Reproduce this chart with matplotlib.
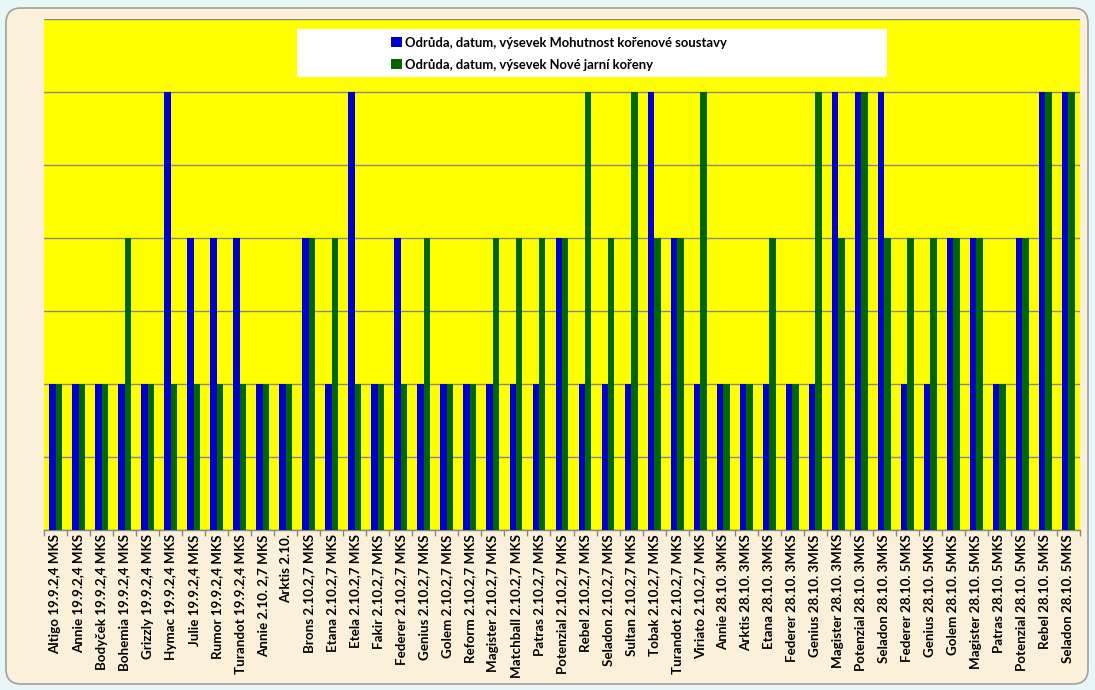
import matplotlib
matplotlib.use('Agg')
import matplotlib.pyplot as plt
import numpy as np
from matplotlib.patches import Patch, Rectangle, FancyBboxPatch

# category labels (variety, date, sowing)
labels = [
    "Altigo 19.9.2,4 MKS", "Annie 19.9.2,4 MKS", "Bodyček 19.9.2,4 MKS",
    "Bohemia 19.9.2,4 MKS", "Grizzly 19.9.2,4 MKS", "Hymac 19.9.2,4 MKS",
    "Julie 19.9.2,4 MKS", "Rumor 19.9.2,4 MKS", "Turandot 19.9.2,4 MKS",
    "Annie 2.10. 2,7 MKS", "Arktis 2.10.", "Brons 2.10.2,7 MKS",
    "Etana 2.10.2,7 MKS", "Etela 2.10.2,7 MKS", "Fakir 2.10.2,7 MKS",
    "Federer 2.10.2,7 MKS", "Genius 2.10.2,7 MKS", "Golem 2.10.2,7 MKS",
    "Reform 2.10.2,7 MKS", "Magister 2.10.2,7 MKS", "Matchball 2.10.2,7 MKS",
    "Patras 2.10.2,7 MKS", "Potenzial 2.10.2,7 MKS", "Rebel 2.10.2,7 MKS",
    "Seladon 2.10.2,7 MKS", "Sultan 2.10.2,7 MKS", "Tobak 2.10.2,7 MKS",
    "Turandot 2.10.2,7 MKS", "Viriato 2.10.2,7 MKS", "Annie 28.10. 3MKS",
    "Arktis 28.10. 3MKS", "Etana 28.10. 3MKS", "Federer 28.10. 3MKS",
    "Genius 28.10. 3MKS", "Magister 28.10. 3MKS", "Potenzial 28.10. 3MKS",
    "Seladon 28.10. 3MKS", "Federer 28.10. 5MKS", "Genius 28.10. 5MKS",
    "Golem 28.10. 5MKS", "Magister 28.10. 5MKS", "Patras 28.10. 5MKS",
    "Potenzial 28.10. 5MKS", "Rebel 28.10. 5MKS", "Seladon 28.10. 5MKS",
]

# Mohutnost kořenové soustavy (blue)
mohutnost = [2, 2, 2, 2, 2, 6, 4, 4, 4, 2, 2, 4, 2, 6, 2,
             4, 2, 2, 2, 2, 2, 2, 4, 2, 2, 2, 6, 4, 2, 2,
             2, 2, 2, 2, 6, 6, 6, 2, 2, 4, 4, 2, 4, 6, 6]
# Nové jarní kořeny (green)
nove_koreny = [2, 2, 2, 4, 2, 2, 2, 2, 2, 2, 2, 4, 4, 2, 2,
               2, 4, 2, 2, 4, 4, 4, 4, 6, 4, 6, 4, 4, 6, 2,
               2, 4, 2, 6, 4, 6, 4, 4, 4, 4, 4, 2, 4, 6, 6]

series_names = [
    "Odrůda, datum, výsevek Mohutnost kořenové soustavy",
    "Odrůda, datum, výsevek Nové jarní kořeny",
]

blue = "#0000CC"
green = "#006600"

plt.rcParams['font.family'] = ['Lato', 'DejaVu Sans']

fig = plt.figure(figsize=(10.95, 6.9), dpi=100, facecolor="#E8F6F8")

# parchment chart area with rounded corners
bg = FancyBboxPatch((0.12, 0.12), 10.70, 6.64,
                    boxstyle="round,pad=0.06,rounding_size=0.15",
                    transform=fig.dpi_scale_trans, facecolor="#FBF0DA",
                    edgecolor="#A0A0A0", linewidth=1.2, zorder=-5)
fig.patches.append(bg)

ax = fig.add_axes([44 / 1095, 1 - 530 / 690, 1036 / 1095, 511 / 690])
ax.set_zorder(2)
ax.set_facecolor("#FFFF00")

x = np.arange(len(labels))
w = 0.28
ax.bar(x - w / 2, mohutnost, w, color=blue, zorder=3, label=series_names[0])
ax.bar(x + w / 2, nove_koreny, w, color=green, zorder=3, label=series_names[1])

ax.set_xlim(-0.5, len(labels) - 0.5)
ax.set_ylim(0, 7)
ax.set_yticks(range(8))
ax.yaxis.grid(True, color="#888888", linewidth=1.0)
ax.set_axisbelow(True)
ax.tick_params(axis='y', length=0, labelleft=False)

for s in ["left", "right", "top"]:
    ax.spines[s].set_visible(False)
ax.spines["bottom"].set_color("#888888")
ax.spines["bottom"].set_linewidth(1.0)

ax.set_xticks(x)
ax.set_xticklabels(labels, rotation=90, fontsize=9.6, fontweight="bold", va="top")
ax.tick_params(axis='x', which='major', length=0, pad=3)
ax.set_xticks(np.arange(-0.5, len(labels)), minor=True)
ax.tick_params(axis='x', which='minor', length=4, color="#888888", width=1)

# white legend box
box = Rectangle((0.244, 0.886), 0.570, 0.094, transform=ax.transAxes,
                facecolor="white", edgecolor="none", zorder=8)
ax.add_patch(box)
handles = [Patch(facecolor=blue), Patch(facecolor=green)]
leg = ax.legend(handles, series_names, loc="upper left",
                bbox_to_anchor=(0.330, 0.975), frameon=False,
                prop={"weight": "bold", "size": 9.4},
                handlelength=0.8, handleheight=0.8, handletextpad=0.25,
                labelspacing=0.75, borderaxespad=0)
leg.set_zorder(9)

plt.savefig("out.png", dpi=100, facecolor=fig.get_facecolor())
plt.close()
